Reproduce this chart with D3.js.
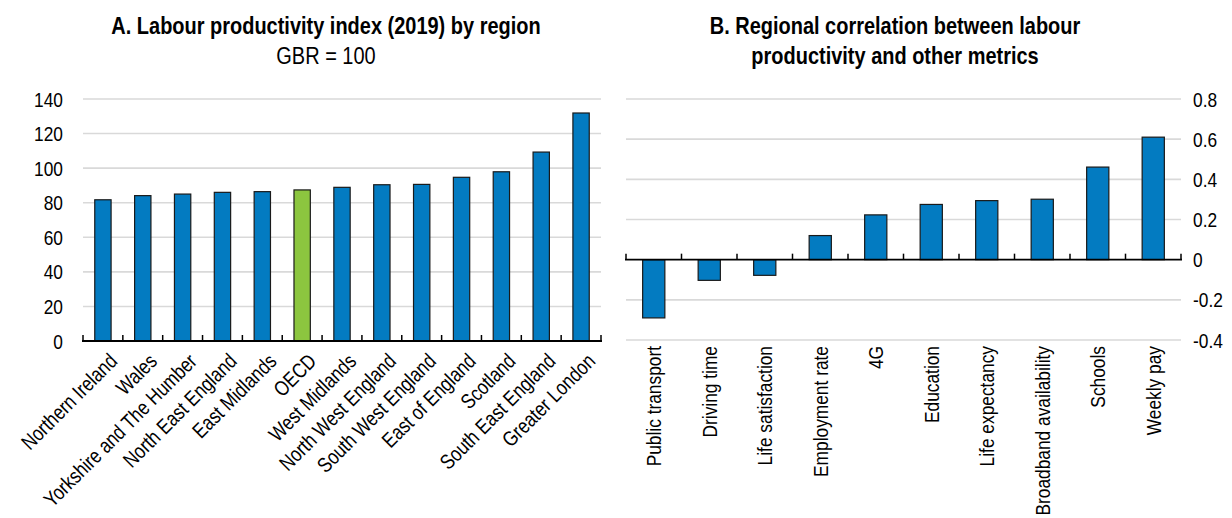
<!DOCTYPE html>
<html>
<head>
<meta charset="utf-8">
<script src="https://cdn.jsdelivr.net/npm/d3@7"></script>
<style>
  html, body { margin: 0; padding: 0; background: #fff; }
  svg text { font-family: "Liberation Sans", Arial, sans-serif; fill: #000; }
</style>
</head>
<body>
<svg id="chart" width="1232" height="518"></svg>
<script>
// Panel A: labour productivity index by region, GBR = 100
const regions = ["Northern Ireland", "Wales", "Yorkshire and The Humber", "North East England",
  "East Midlands", "OECD", "West Midlands", "North West England", "South West England",
  "East of England", "Scotland", "South East England", "Greater London"];
const productivity = [81.7, 84.1, 85.0, 86.0, 86.4, 87.4, 88.9, 90.4, 90.6, 94.7, 97.9, 109.3, 131.9];
const productivityTicks = [0, 20, 40, 60, 80, 100, 120, 140];

// Panel B: correlation of regional labour productivity with other metrics
const metrics = ["Public transport", "Driving time", "Life satisfaction", "Employment rate", "4G",
  "Education", "Life expectancy", "Broadband availability", "Schools", "Weekly pay"];
const correlation = [-0.29, -0.103, -0.078, 0.12, 0.223, 0.275, 0.294, 0.301, 0.461, 0.61];
const correlationTicks = [-0.4, -0.2, 0, 0.2, 0.4, 0.6, 0.8];

const BLUE = "#037BC1", GREEN = "#8CC63F", GRID = "#d9d9d9";
const FS = 21, SQ = 0.825;          // tick and category labels: condensed face
const FS_TITLE = 23.5, SQ_TITLE = 0.85;

// translate, optional rotation, then condense along the text direction
const place = (x, y, rot, sq) => `translate(${x},${y}) rotate(${rot}) scale(${sq},1)`;

const svg = d3.select("#chart");

// ---------- Panel A ----------
const xA = d3.scaleBand().domain(regions).range([83, 601]).paddingInner(0.59).paddingOuter(0.295);
const yA = d3.scaleLinear().domain([0, 140]).range([341, 99]);
const gA = svg.append("g");

gA.append("g").selectAll("line").data(productivityTicks.filter(d => d !== 0)).join("line")
  .attr("x1", 83).attr("x2", 601)
  .attr("y1", d => yA(d)).attr("y2", d => yA(d))
  .attr("stroke", GRID).attr("stroke-width", 1.6);

gA.append("g").selectAll("text").data(productivityTicks).join("text")
  .attr("transform", d => place(63, yA(d), 0, SQ)).attr("dy", "0.36em")
  .attr("text-anchor", "end").attr("font-size", FS)
  .text(d => d);

gA.append("g").selectAll("rect").data(regions).join("rect")
  .attr("x", d => xA(d)).attr("width", xA.bandwidth())
  .attr("y", (d, i) => yA(productivity[i]))
  .attr("height", (d, i) => yA(0) - yA(productivity[i]))
  .attr("fill", d => d === "OECD" ? GREEN : BLUE)
  .attr("stroke", "#1a1a1a").attr("stroke-width", 1.2);

// category axis with ticks between bands, pointing upward
const stepA = xA.step();
const bordersA = d3.range(regions.length + 1).map(i => 83 + i * stepA);
gA.append("line").attr("x1", 82).attr("x2", 602).attr("y1", yA(0)).attr("y2", yA(0))
  .attr("stroke", "#000").attr("stroke-width", 1.8);
gA.append("g").selectAll("line").data(bordersA).join("line")
  .attr("x1", d => d).attr("x2", d => d).attr("y1", yA(0)).attr("y2", yA(0) - 6)
  .attr("stroke", "#000").attr("stroke-width", 1.5);

gA.append("g").selectAll("text").data(regions).join("text")
  .attr("transform", d => place(xA(d) + xA.bandwidth() / 2 + 5, yA(0) + 11, -45, SQ))
  .attr("text-anchor", "end").attr("dy", "0.71em").attr("font-size", FS)
  .text(d => d);

gA.append("text").attr("transform", place(326, 34, 0, SQ_TITLE)).attr("text-anchor", "middle")
  .attr("font-size", FS_TITLE).attr("font-weight", "bold")
  .text("A. Labour productivity index (2019) by region");
gA.append("text").attr("transform", place(326, 64, 0, SQ_TITLE)).attr("text-anchor", "middle")
  .attr("font-size", FS_TITLE).text("GBR = 100");

// ---------- Panel B ----------
const xB = d3.scaleBand().domain(metrics).range([626, 1181]).paddingInner(0.6).paddingOuter(0.3);
const yB = d3.scaleLinear().domain([-0.4, 0.8]).range([340, 99]);
const gB = svg.append("g");

gB.append("g").selectAll("line").data(correlationTicks.filter(d => d !== 0)).join("line")
  .attr("x1", 626).attr("x2", 1181)
  .attr("y1", d => yB(d)).attr("y2", d => yB(d))
  .attr("stroke", GRID).attr("stroke-width", 1.6);

gB.append("g").selectAll("text").data(correlationTicks).join("text")
  .attr("transform", d => place(1193, yB(d), 0, SQ)).attr("dy", "0.36em")
  .attr("text-anchor", "start").attr("font-size", FS)
  .text(d => String(+d.toFixed(1)));

gB.append("g").selectAll("rect").data(metrics).join("rect")
  .attr("x", d => xB(d)).attr("width", xB.bandwidth())
  .attr("y", (d, i) => yB(Math.max(0, correlation[i])))
  .attr("height", (d, i) => Math.abs(yB(correlation[i]) - yB(0)))
  .attr("fill", BLUE)
  .attr("stroke", "#1a1a1a").attr("stroke-width", 1.2);

const stepB = xB.step();
const bordersB = d3.range(metrics.length + 1).map(i => 626 + i * stepB);
gB.append("line").attr("x1", 625).attr("x2", 1182).attr("y1", yB(0)).attr("y2", yB(0))
  .attr("stroke", "#000").attr("stroke-width", 1.8);
gB.append("g").selectAll("line").data(bordersB).join("line")
  .attr("x1", d => d).attr("x2", d => d).attr("y1", yB(0)).attr("y2", yB(0) - 6)
  .attr("stroke", "#000").attr("stroke-width", 1.5);

gB.append("g").selectAll("text").data(metrics).join("text")
  .attr("transform", d => place(xB(d) + xB.bandwidth() / 2, 346, -90, SQ))
  .attr("text-anchor", "end").attr("dy", "0.36em").attr("font-size", FS)
  .text(d => d);

gB.append("text").attr("transform", place(895, 34, 0, SQ_TITLE)).attr("text-anchor", "middle")
  .attr("font-size", FS_TITLE).attr("font-weight", "bold")
  .text("B. Regional correlation between labour");
gB.append("text").attr("transform", place(895, 64, 0, SQ_TITLE)).attr("text-anchor", "middle")
  .attr("font-size", FS_TITLE).attr("font-weight", "bold")
  .text("productivity and other metrics");
</script>
</body>
</html>
